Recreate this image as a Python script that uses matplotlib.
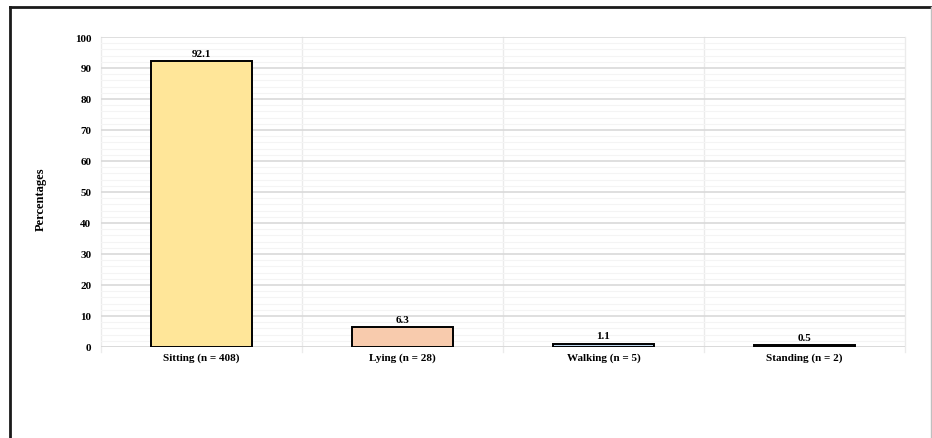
import matplotlib
matplotlib.use('Agg')
import matplotlib.pyplot as plt
from matplotlib.lines import Line2D
from matplotlib.ticker import MultipleLocator

plt.rcParams['font.family'] = ['Liberation Serif', 'DejaVu Serif']
plt.rcParams['font.weight'] = 'bold'

categories = ['Sitting (n = 408)', 'Lying (n = 28)', 'Walking (n = 5)', 'Standing (n = 2)']
percentages = [92.1, 6.3, 1.1, 0.5]
bar_colors = ['#FFE699', '#F8CBAD', '#BDD7EE', '#A6A6A6']

W, H = 932, 439
fig = plt.figure(figsize=(W / 100, H / 100), dpi=100)
ax = fig.add_axes([101 / W, 1 - 348 / H, (905 - 101) / W, (348 - 38) / H])

pos = [i + 0.5 for i in range(len(categories))]
bars = ax.bar(pos, percentages, width=0.5, color=bar_colors,
              edgecolor='black', linewidth=1.4, zorder=3)
for b, v in zip(bars, percentages):
    ax.text(b.get_x() + b.get_width() / 2, v + 1.2, f'{v}', ha='center', va='bottom',
            fontsize=8, fontweight='bold')

ax.set_xlim(0, len(categories))
ax.set_ylim(0, 100)
ax.set_xticks(pos)
ax.set_xticklabels(categories, fontsize=8, fontweight='bold')
ax.yaxis.set_major_locator(MultipleLocator(10))
ax.yaxis.set_minor_locator(MultipleLocator(2))
ax.tick_params(axis='both', which='both', length=0, labelsize=8)
ax.tick_params(axis='x', pad=4)
ax.tick_params(axis='y', pad=7)
for t in ax.get_yticklabels():
    t.set_fontweight('bold')

# light Excel-style grid
ax.grid(axis='y', which='major', color='#D9D9D9', linewidth=1.2, zorder=0)
ax.grid(axis='y', which='minor', color='#F4F4F4', linewidth=0.8, zorder=0)
for x in range(len(categories) + 1):
    ax.plot([x, x], [-1.5, 100], color='#EBEBEB', linewidth=1, zorder=1, clip_on=False)
for s in ax.spines.values():
    s.set_visible(False)
ax.axhline(0, color='#D9D9D9', linewidth=1.2, zorder=2)

ax.set_ylabel('Percentages', fontsize=9, fontweight='bold')
ax.yaxis.set_label_coords(-(101 - 47) / (905 - 101), 0.48)

# outer frame
fig.add_artist(Line2D([10 / W, 10 / W], [0, 1 - 8 / H], transform=fig.transFigure,
                      color='#1a1a1a', linewidth=2))
fig.add_artist(Line2D([10 / W, 1], [1 - 8 / H, 1 - 8 / H], transform=fig.transFigure,
                      color='#1a1a1a', linewidth=2))
fig.add_artist(Line2D([931 / W, 931 / W], [0, 1 - 8 / H], transform=fig.transFigure,
                      color='#BFBFBF', linewidth=1))

fig.savefig('out.png', dpi=100)
